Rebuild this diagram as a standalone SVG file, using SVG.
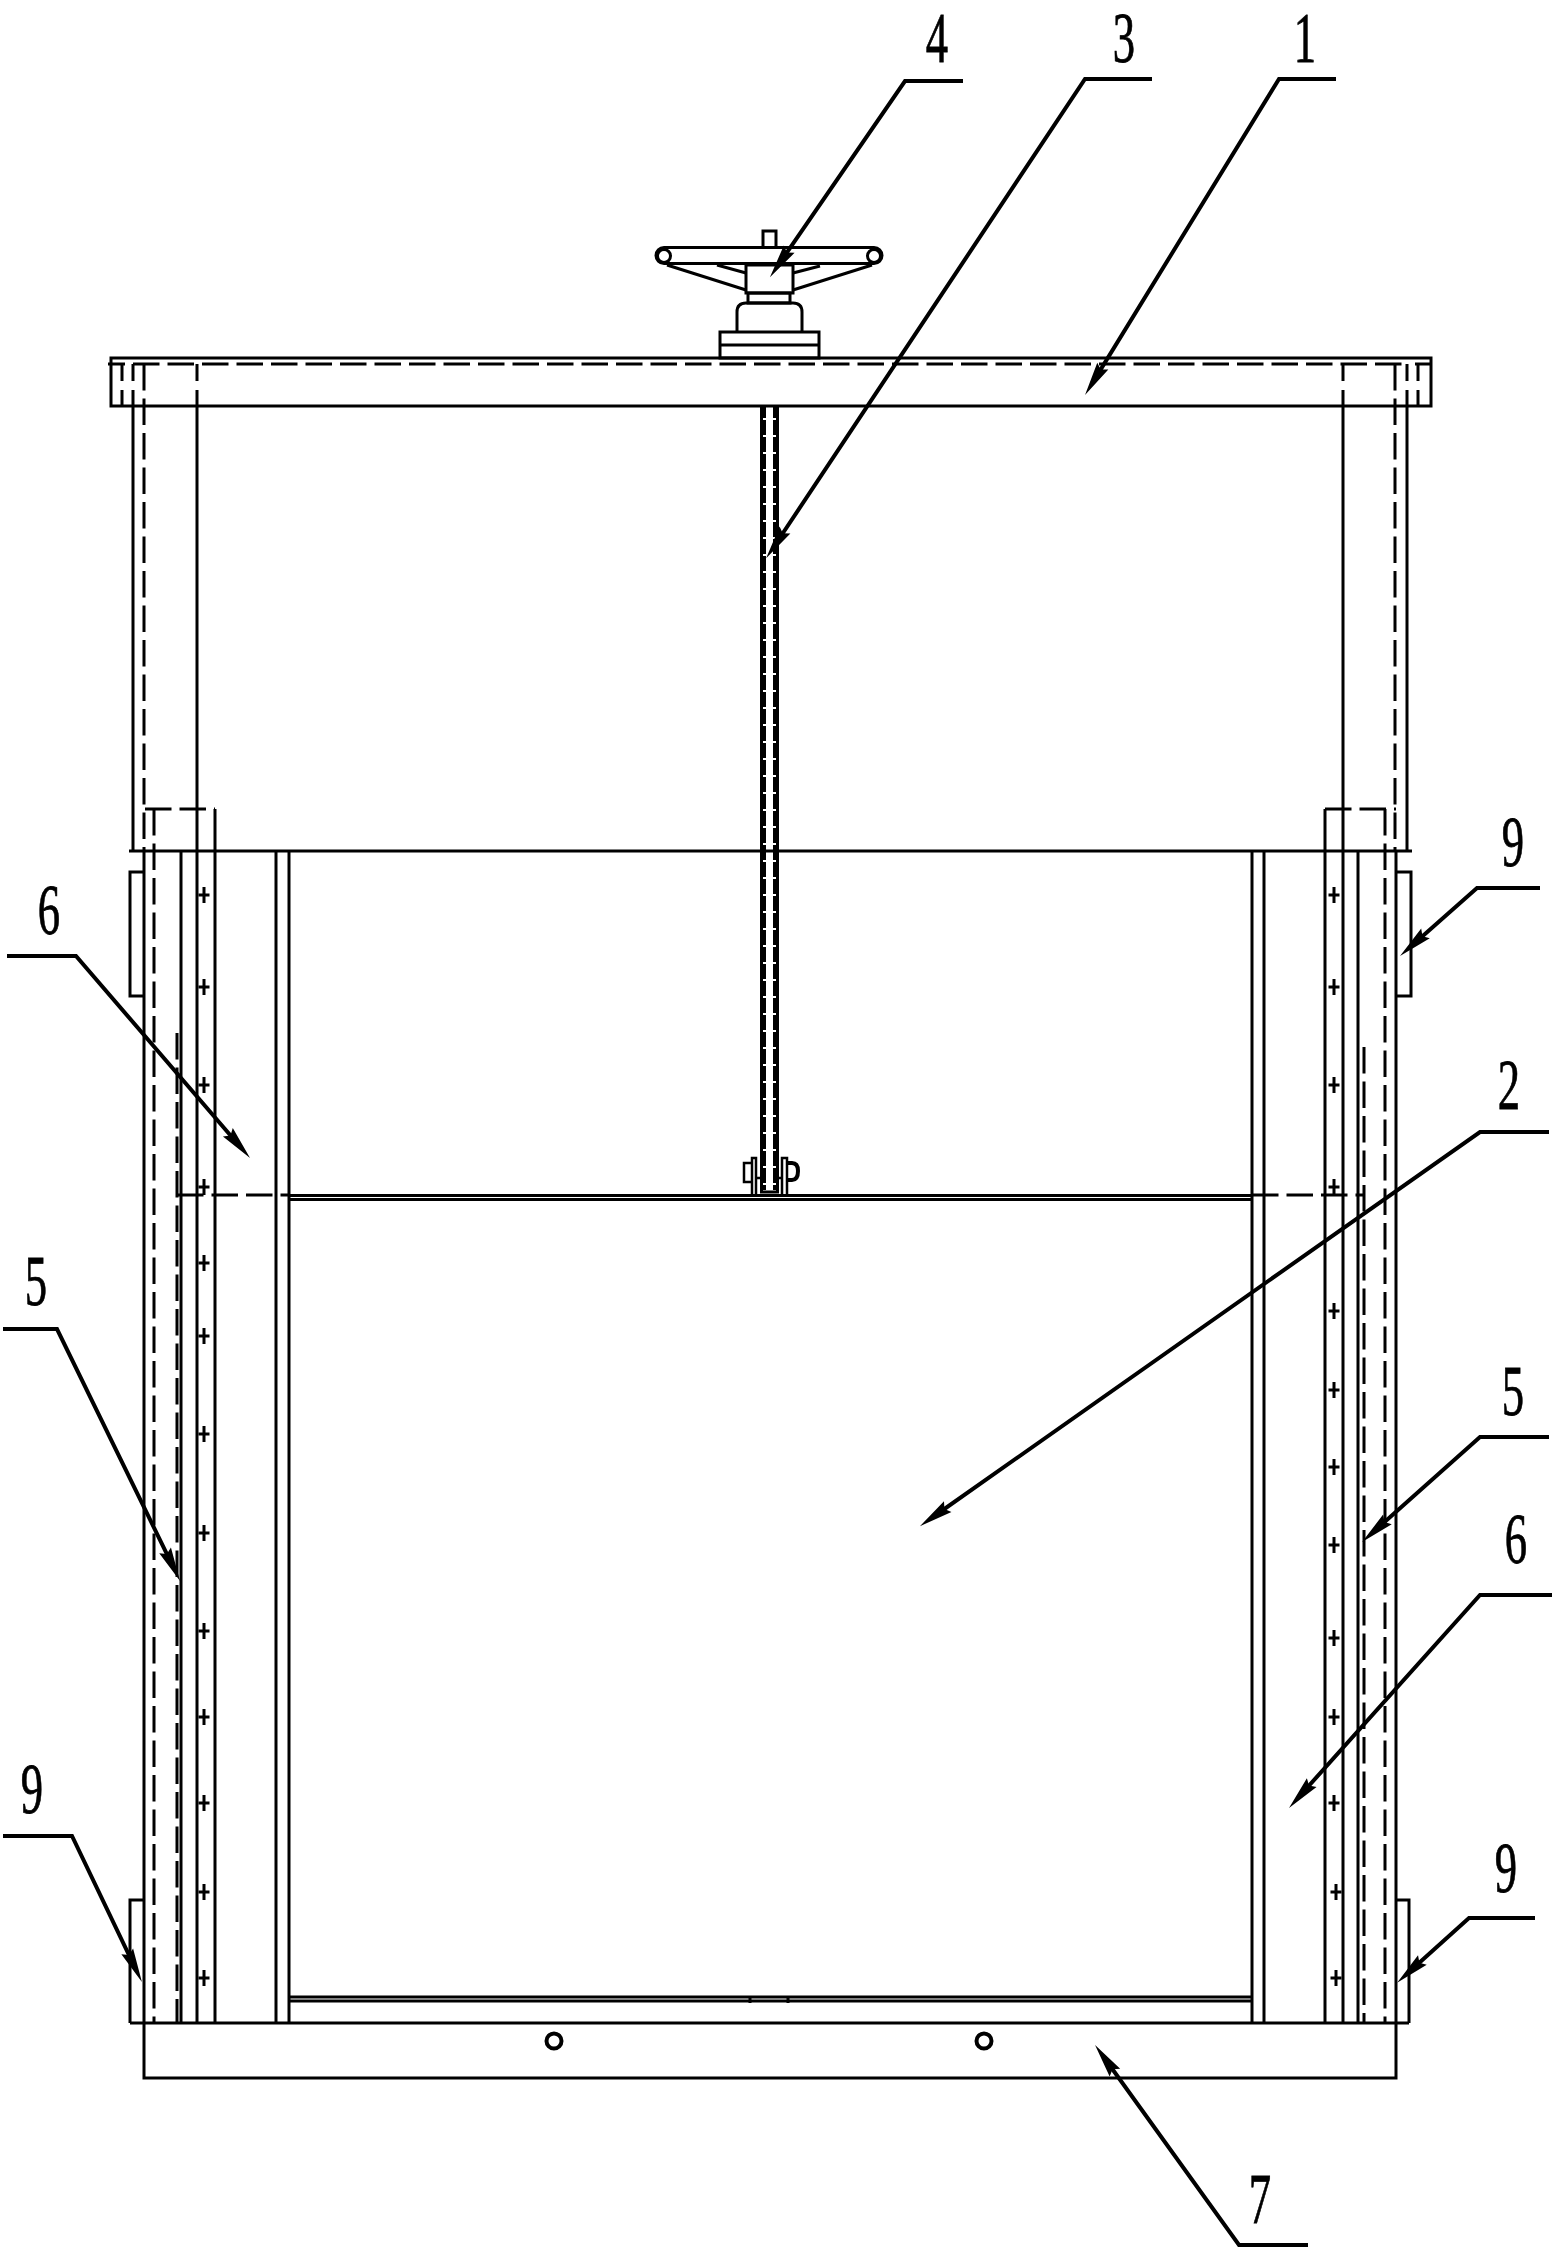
<svg xmlns="http://www.w3.org/2000/svg" width="1552" height="2256" viewBox="0 0 1552 2256">
<style>
line,path,rect,circle{fill:none;stroke:#000;stroke-width:3}
.d{stroke-dasharray:26.5 8}
.t{stroke-width:2.5}
.n{font-family:"Liberation Serif",serif;font-size:72px;fill:#000;stroke:#000;stroke-width:.8;text-anchor:middle}
.l{fill:none;stroke:#000;stroke-width:4}
.h{fill:#000;stroke:none}
</style>
<defs>
<marker id="a" markerUnits="userSpaceOnUse" viewBox="-20 -8 38 16" markerWidth="38" markerHeight="16" refX="0" refY="0" orient="auto">
<polygon class="h" points="16,0 -18,-6.500 -14,0 -18,6.500"/>
</marker>
<path id="p" d="M-5.5,0H5.5M0,-8V8"/>
</defs>
<rect width="1552" height="2256" style="fill:#fff;stroke:none"/>

<g id="beam">
<rect x="111" y="358" width="1320" height="48"/>
<line class="d" x1="133" y1="364" x2="1408" y2="364"/>
<line x1="108" y1="364" x2="125" y2="364"/>
<line x1="1415" y1="364" x2="1431" y2="364"/>
<path d="M122,364V381M122,390V406M133,364V381M1407,364V381M1418,364V381M1418,390V406M197,364V381M1343,364V381"/>
</g>

<g id="frame">
<line x1="129" y1="851" x2="1412" y2="851"/>
<path d="M133,390V851M1407,390V851"/>
<line class="d" x1="144" y1="364" x2="144" y2="851"/>
<line class="d" x1="1395" y1="364" x2="1395" y2="851"/>
<path d="M197,390V2023M1343,390V2023"/>
<path d="M144,851V2078H1396V851"/>
<path d="M130,2023H1409"/>
<path d="M144,872H130V996H144"/>
<path d="M1396,872H1411V996H1396"/>
<path d="M144,1900H130V2023"/>
<path d="M1396,1900H1409V2023"/>
<path d="M181,851V2023M1358,851V2023"/>
<path d="M215,809V2023M1325,809V2023"/>
<path d="M276,851V2023M289,851V2023M1252,851V2023M1264,851V2023"/>
<path class="d" d="M145,809H215"/>
<path class="d" d="M1325,809H1396"/>
<line class="d" x1="154" y1="809" x2="154" y2="2023"/>
<line class="d" x1="1385" y1="809" x2="1385" y2="2023"/>
<line class="d" x1="177" y1="1033" x2="177" y2="2023"/>
<line class="d" x1="1364" y1="1047" x2="1364" y2="2023"/>
<line class="d" x1="177" y1="1195" x2="289" y2="1195"/>
<line class="d" x1="1252" y1="1195" x2="1364" y2="1195"/>
</g>

<g id="plus-left">
<use href="#p" x="204" y="895"/><use href="#p" x="204" y="987"/><use href="#p" x="204" y="1085"/><use href="#p" x="204" y="1187"/><use href="#p" x="204" y="1263"/><use href="#p" x="204" y="1336"/><use href="#p" x="204" y="1434"/><use href="#p" x="204" y="1533"/><use href="#p" x="204" y="1631"/><use href="#p" x="204" y="1717"/><use href="#p" x="204" y="1803"/><use href="#p" x="204" y="1892"/><use href="#p" x="204" y="1978"/>
</g>
<g id="plus-right">
<use href="#p" x="1334" y="895"/><use href="#p" x="1334" y="987"/><use href="#p" x="1334" y="1085"/><use href="#p" x="1334" y="1187"/><use href="#p" x="1334" y="1311"/><use href="#p" x="1334" y="1390"/><use href="#p" x="1334" y="1467"/><use href="#p" x="1334" y="1545"/><use href="#p" x="1334" y="1638"/><use href="#p" x="1334" y="1717"/><use href="#p" x="1334" y="1803"/><use href="#p" x="1336" y="1892"/><use href="#p" x="1336" y="1978"/>
</g>

<g id="gate">
<path d="M289,1195.5H1252M289,1199.5H1252"/>
<path d="M289,1997H1252M289,2001H1252"/>
<path d="M750,1996V2003M788,1996V2003"/>
</g>

<g id="base">
<circle cx="554" cy="2041" r="7.5" style="stroke-width:4"/>
<circle cx="984" cy="2041" r="7.5" style="stroke-width:4"/>
</g>

<g id="stem">
<path d="M761.5,407V1192M777.5,407V1192M760,1192H779"/>
<path d="M764.5,407V1190M774.5,407V1190" style="stroke-dasharray:15 2;stroke-dashoffset:4"/>
<path d="M752,1195V1158H756V1195M782,1195V1158H787V1195" class="t"/>
<path d="M752,1163H744V1182H752" class="t"/>
<path d="M787,1163H792Q798,1163 798,1171Q798,1180 792,1180H787" style="stroke-width:4"/>
<path d="M756,1178H761M778,1178H782" class="t"/>
</g>

<g id="handwheel">
<rect x="720" y="332" width="99" height="26"/>
<line x1="720" y1="345" x2="819" y2="345"/>
<path d="M737,332V312Q737,303 746,303H793Q802,303 802,312V332"/>
<rect x="748" y="293" width="42" height="10"/>
<rect x="746" y="265" width="47" height="28"/>
<rect x="656" y="247.500" width="226" height="16" rx="8"/>
<circle cx="664" cy="256" r="6.500"/>
<circle cx="874" cy="256" r="6.500"/>
<path d="M667,265L746,290M717,265L746,273M872,265L793,290M820,266L793,273"/>
<path d="M763,247V231H776V247"/>
</g>

<g id="connectors">
<polyline class="l" marker-end="url(#a)" points="963,81 905,81 779,264"/>
<polyline class="l" marker-end="url(#a)" points="1152,79 1085,79 775,545"/>
<polyline class="l" marker-end="url(#a)" points="1336,79 1279,79 1093.400,381.400"/>
<polyline class="l" marker-end="url(#a)" points="1549,1132 1480,1132 933,1517"/>
<polyline class="l" marker-end="url(#a)" points="7,956 76,956 239.600,1146"/>
<polyline class="l" marker-end="url(#a)" points="3,1329 57,1329 173,1566.600"/>
<polyline class="l" marker-end="url(#a)" points="1540,888 1477,888 1412,945.400"/>
<polyline class="l" marker-end="url(#a)" points="1549,1437 1480,1437 1374,1531.400"/>
<polyline class="l" marker-end="url(#a)" points="1552,1595 1480,1595 1299.700,1796"/>
<polyline class="l" marker-end="url(#a)" points="3,1836 72,1836 135,1967.600"/>
<polyline class="l" marker-end="url(#a)" points="1535,1918 1469,1918 1409,1972"/>
<polyline class="l" marker-end="url(#a)" points="1308,2245 1239,2245 1104.400,2058"/>
</g>

<g id="labels">
<text class="n" transform="translate(937 62) scale(.62 1)">4</text>
<text class="n" transform="translate(1124 62) scale(.62 1)">3</text>
<text class="n" transform="translate(1305 62) scale(.62 1)">1</text>
<text class="n" transform="translate(1509 1109) scale(.62 1)">2</text>
<text class="n" transform="translate(49 934) scale(.62 1)">6</text>
<text class="n" transform="translate(36 1305) scale(.62 1)">5</text>
<text class="n" transform="translate(1513 866) scale(.62 1)">9</text>
<text class="n" transform="translate(1513 1415) scale(.62 1)">5</text>
<text class="n" transform="translate(1516 1563) scale(.62 1)">6</text>
<text class="n" transform="translate(32 1813) scale(.62 1)">9</text>
<text class="n" transform="translate(1506 1892) scale(.62 1)">9</text>
<text class="n" transform="translate(1260 2223) scale(.62 1)">7</text>
</g>
</svg>
